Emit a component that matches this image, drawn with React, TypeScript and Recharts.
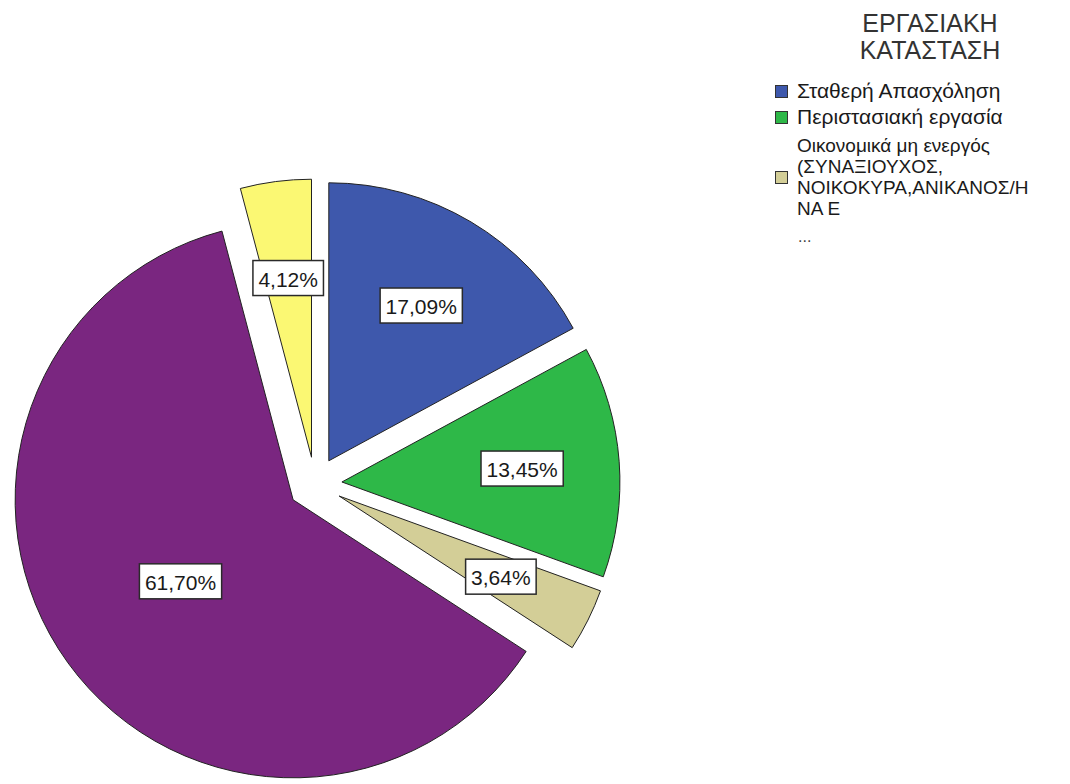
import React from 'react';
import { PieChart, Pie, Cell, Legend } from 'recharts';

// categories in drawing order (clockwise from 12 o'clock)
const categories = [
    'Σταθερή Απασχόληση',
    'Περιστασιακή εργασία',
    'Οικονομικά μη ενεργός (ΣΥΝΑΞΙΟΥΧΟΣ, ΝΟΙΚΟΚΥΡΑ,ΑΝΙΚΑΝΟΣ/Η ΝΑ Ε...',
    'Άνεργος/η',
    'Άλλο'
];
const percents = [17.09, 13.45, 3.64, 61.7, 4.12];
const colors = ['#3E58AC', '#2EB848', '#D3CE97', '#7A2680', '#FBF873'];

// legend text as it is wrapped / cut in the original
const legendTitle = ['ΕΡΓΑΣΙΑΚΗ', 'ΚΑΤΑΣΤΑΣΗ'];
const legendLines = [
    ['Σταθερή Απασχόληση'],
    ['Περιστασιακή εργασία'],
    ['Οικονομικά μη ενεργός', '(ΣΥΝΑΞΙΟΥΧΟΣ,', 'ΝΟΙΚΟΚΥΡΑ,ΑΝΙΚΑΝΟΣ/Η', 'ΝΑ Ε']
];

const WIDTH = 1070;
const HEIGHT = 784;
const CX = 315;
const CY = 484;
const RADIUS = 278;
const EXPLODE = 27;
const RAD = Math.PI / 180;
const FONT = '"Liberation Sans", Arial, sans-serif';
const LABEL_FONT = 21;

const data = categories.map((name, i) => ({ name, value: percents[i] }));

// mid angle of each slice (recharts degrees, start at 90 going clockwise)
const total = percents.reduce((a, b) => a + b, 0);
const midAngles: number[] = [];
{
    let cum = 0;
    percents.forEach(v => {
        midAngles.push(90 - (360 * (cum + v / 2)) / total);
        cum += v;
    });
}

const formatPct = (v: number) => v.toFixed(2).replace('.', ',') + '%';

// rough Arial advance widths, just for sizing the label box
const textWidth = (s: string) =>
    s.split('').reduce((w, ch) => w + (ch === ',' ? 0.278 : ch === '%' ? 0.889 : 0.556), 0) * LABEL_FONT;

const makeLabel = (slice: number) => (props: any) => {
    if (props.index !== slice) return null;
    const { cx, cy, midAngle, outerRadius, value } = props;
    const r = outerRadius * (value > 50 ? 0.5 : 0.65);
    const x = cx + r * Math.cos(-midAngle * RAD);
    const y = cy + r * Math.sin(-midAngle * RAD);
    const text = formatPct(value);
    const w = textWidth(text) + 11;
    const h = 35;
    return (
        <g>
            <rect x={x - w / 2} y={y - h / 2} width={w} height={h} fill="#fff" stroke="#2a2a2a" strokeWidth={1.5} />
            <text
                x={x}
                y={y + 1}
                textAnchor="middle"
                dominantBaseline="central"
                fontFamily={FONT}
                fontSize={LABEL_FONT}
                fill="#1a1a1a"
            >
                {text}
            </text>
        </g>
    );
};

const renderLegend = () => (
    <div style={{ fontFamily: FONT, color: '#1a1a1a' }}>
        <div
            style={{
                textAlign: 'center',
                fontSize: 25,
                lineHeight: '27px',
                color: '#333',
                width: 310,
                paddingTop: 10,
                marginBottom: 14
            }}
        >
            {legendTitle.map(t => (
                <div key={t}>{t}</div>
            ))}
        </div>
        {legendLines.map((lines, i) => (
            <div
                key={i}
                style={{ display: 'flex', alignItems: 'center', marginTop: i === 2 ? 5 : 0 }}
            >
                <div
                    style={{
                        width: 11,
                        height: 11,
                        background: colors[i],
                        border: '1px solid #333',
                        marginRight: 9,
                        flexShrink: 0
                    }}
                />
                <div
                    style={{
                        fontSize: lines.length > 1 ? 19 : 21,
                        lineHeight: lines.length > 1 ? '21px' : '26px',
                        whiteSpace: 'nowrap'
                    }}
                >
                    {lines.map(l => (
                        <div key={l}>{l}</div>
                    ))}
                </div>
            </div>
        ))}
        <div style={{ fontSize: 16, lineHeight: '20px', marginLeft: 23, marginTop: 8, color: '#444' }}>...</div>
    </div>
);

export default function App() {
    return (
        <div style={{ position: 'absolute', left: 0, top: 0, background: '#fff' }}>
            <PieChart width={WIDTH} height={HEIGHT} margin={{ top: 0, right: 0, bottom: 0, left: 0 }}>
                {data.map((_, slice) => (
                    <Pie
                        key={slice}
                        data={data}
                        dataKey="value"
                        nameKey="name"
                        cx={CX + EXPLODE * Math.cos(midAngles[slice] * RAD)}
                        cy={CY - EXPLODE * Math.sin(midAngles[slice] * RAD)}
                        outerRadius={RADIUS}
                        startAngle={90}
                        endAngle={-270}
                        labelLine={false}
                        label={makeLabel(slice)}
                        isAnimationActive={false}
                        legendType="none"
                    >
                        {data.map((d, i) => (
                            <Cell
                                key={d.name}
                                fill={i === slice ? colors[i] : 'none'}
                                stroke={i === slice ? '#222' : 'none'}
                                strokeWidth={1}
                            />
                        ))}
                    </Pie>
                ))}
                <Legend
                    content={renderLegend}
                    layout="vertical"
                    verticalAlign="top"
                    align="right"
                    wrapperStyle={{ top: 0, left: 775, width: 295 }}
                />
            </PieChart>
        </div>
    );
}
